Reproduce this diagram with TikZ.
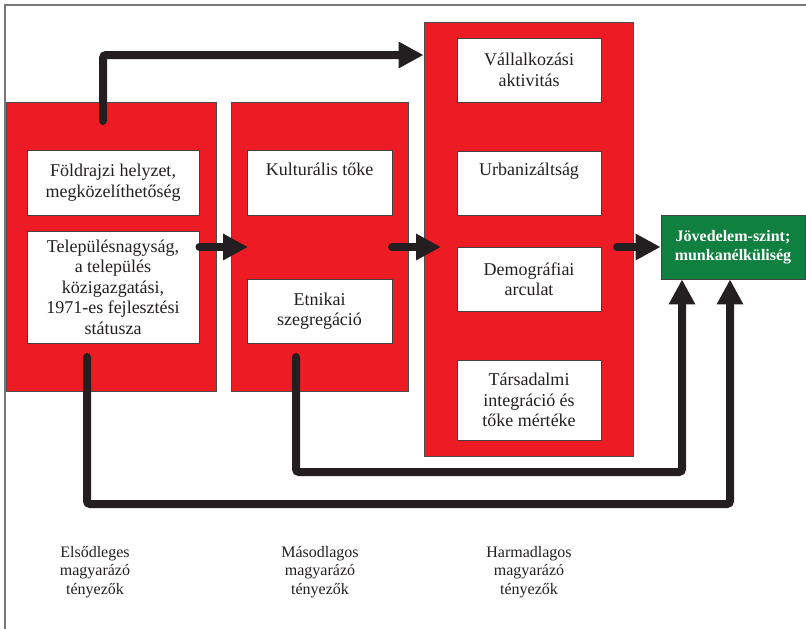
\documentclass[tikz,border=0pt]{standalone}
\usepackage{fontspec}
\setmainfont{Liberation Serif}
\usetikzlibrary{arrows.meta}
\definecolor{boxred}{RGB}{237,28,36}
\definecolor{boxgreen}{RGB}{16,128,64}
\definecolor{inkdark}{RGB}{35,31,32}
\definecolor{framegray}{RGB}{120,120,120}
\tikzset{
  redbox/.style={draw=inkdark!80, line width=0.9pt, fill=boxred},
  wbox/.style={draw=inkdark!85, line width=0.9pt, fill=white, inner sep=0pt, align=center,
    font=\fontsize{18}{20.5}\selectfont, text=inkdark},
  gbox/.style={draw=inkdark!85, line width=0.9pt, fill=boxgreen, inner sep=0pt, align=center,
    font=\fontsize{16}{19}\selectfont\bfseries, text=white},
  lbl/.style={align=center, font=\fontsize{16}{18.5}\selectfont, text=inkdark},
  flow/.style={draw=inkdark, line width=8pt, line cap=round, rounded corners=3pt,
    -{Triangle[length=25pt,width=25pt]}},
}
\begin{document}
\begin{tikzpicture}[x=1pt,y=-1pt]
\useasboundingbox (0,0) rectangle (806,629);
% frame
\draw[framegray, line width=1.5pt] (5,629) -- (5,5) -- (806,5);
% red group boxes
\node[redbox, minimum width=210pt, minimum height=289pt, inner sep=0pt] (r1) at (111,246.5) {};
\node[redbox, minimum width=177pt, minimum height=289pt, inner sep=0pt] (r2) at (319.5,246.5) {};
\node[redbox, minimum width=209pt, minimum height=434pt, inner sep=0pt] (r3) at (528.5,239) {};
% white boxes
\node[wbox, minimum width=172pt, minimum height=65pt] (w1) at (113,182.5) {Földrajzi helyzet,\\megközelíthetőség};
\node[wbox, minimum width=172pt, minimum height=112pt] (w2) at (113,287) {Településnagyság,\\a település\\közigazgatási,\\1971-es fejlesztési\\státusza};
\node[wbox, minimum width=145pt, minimum height=65pt] (w3) at (319.5,182.5) {Kulturális tőke\\\strut};
\node[wbox, minimum width=145pt, minimum height=64pt] (w4) at (319.5,311) {Etnikai\\szegregáció};
\node[wbox, minimum width=144pt, minimum height=64pt] (w5) at (529,70) {Vállalkozási\\aktivitás};
\node[wbox, minimum width=144pt, minimum height=64pt] (w6) at (529,183) {Urbanizáltság\\\strut};
\node[wbox, minimum width=144pt, minimum height=64pt] (w7) at (529,279) {Demográfiai\\arculat};
\node[wbox, minimum width=144pt, minimum height=80pt] (w8) at (529,400) {Társadalmi\\integráció és\\tőke mértéke};
% green outcome
\node[gbox, minimum width=144pt, minimum height=64pt] (g) at (733,247) {Jövedelem-szint;\\munkanélküliség};
% connector coordinates
\coordinate (s1) at (103,121);
\coordinate (c1) at (103,55);
\coordinate (t2) at (248,247);
\coordinate (s3) at (392,247);
\coordinate (t3) at (441,247);
\coordinate (s4) at (617,247);
\coordinate (s5) at (296,357);
\coordinate (c5) at (296,472);
\coordinate (s6) at (87,357);
\coordinate (c6) at (87,504);
% connectors
\draw[flow] (s1) -- (c1) -- (c1 -| r3.west);
\draw[flow] (w2.east |- t2) -- (t2);
\draw[flow] (s3) -- (t3);
\draw[flow] (s4) -- (g.west);
\draw[flow] (s5) -- (c5) -- (c5 -| 682,0) -- (682,0 |- g.south);
\draw[flow] (s6) -- (c6) -- (c6 -| 730,0) -- (730,0 |- g.south);
% column labels
\node[lbl] (l1) at (95,572) {Elsődleges\\magyarázó\\tényezők};
\node[lbl] (l2) at (320,572) {Másodlagos\\magyarázó\\tényezők};
\node[lbl] (l3) at (529,572) {Harmadlagos\\magyarázó\\tényezők};
\end{tikzpicture}
\end{document}
